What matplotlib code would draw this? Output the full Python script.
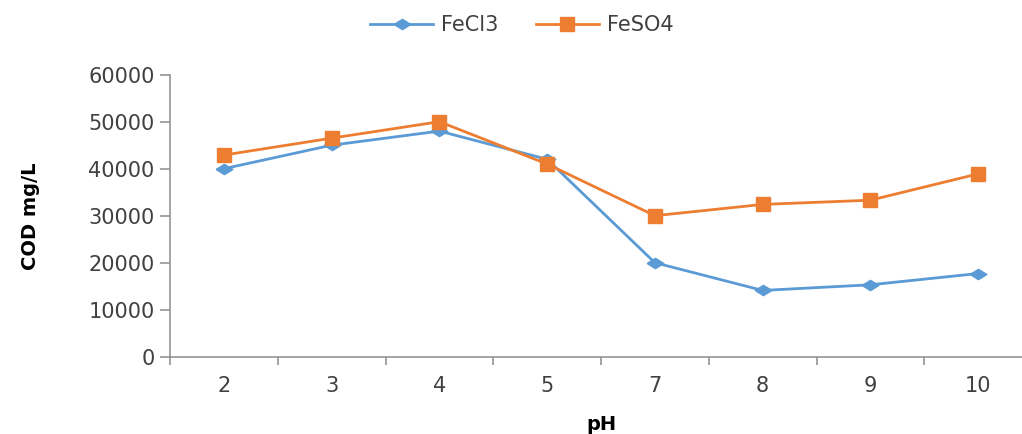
import matplotlib
matplotlib.use("Agg")
import matplotlib.pyplot as plt
import numpy as np

categories = ["2", "3", "4", "5", "7", "8", "9", "10"]
fecl3 = [40000, 45000, 48000, 42000, 20000, 14100, 15300, 17700]
feso4 = [42900, 46500, 50000, 41000, 30000, 32400, 33300, 38900]
yticks = [0, 10000, 20000, 30000, 40000, 50000, 60000]

blue = "#5B9BD5"
orange = "#ED7D31"
axis_col = "#8C8C8C"
text_col = "#404040"

fig = plt.figure(figsize=(10.22, 4.34), dpi=100)
ax = fig.add_axes([170/1022, (434-356.7)/434, 862/1022, 282/434])

x = np.arange(len(categories))
diamond = [(-1, 0), (0, 0.62), (1, 0), (0, -0.62), (-1, 0)]
ax.plot(x, fecl3, color=blue, lw=2, marker=diamond, markersize=12, label="FeCl3")
ax.plot(x, feso4, color=orange, lw=2, marker="s", markersize=10.5, label="FeSO4")

ax.set_xlim(-0.5, len(categories) - 0.5)
ax.set_ylim(0, 60000)
ax.set_yticks(yticks)
ax.set_yticklabels([str(v) for v in yticks])
ax.set_xticks(x)
ax.set_xticklabels(categories)
ax.set_xticks(np.arange(-0.5, len(categories)), minor=True)

for s in ["top", "right"]:
    ax.spines[s].set_visible(False)
for s in ["left", "bottom"]:
    ax.spines[s].set_color(axis_col)
    ax.spines[s].set_linewidth(1.1)

ax.tick_params(axis="x", which="major", length=0, pad=14, labelsize=15, labelcolor=text_col)
ax.tick_params(axis="x", which="minor", length=6, width=1.1, color=axis_col, direction="out")
ax.tick_params(axis="y", which="major", length=7, width=1.1, color=axis_col, pad=4,
               labelsize=15, labelcolor=text_col)

fig.text(30/1022, 1 - 216/434, "COD mg/L", rotation=90, ha="center", va="center",
         fontsize=14, fontweight="bold", color="black")
fig.text(601/1022, 1 - 425/434, "pH", ha="center", va="center",
         fontsize=14, fontweight="bold", color="black")

leg = fig.legend(loc="center", bbox_to_anchor=(522/1022, 1 - 25/434), ncol=2, frameon=False,
                 fontsize=15, handlelength=3.0, columnspacing=1.8, handletextpad=0.4)
for t in leg.get_texts():
    t.set_color(text_col)

fig.savefig("out.png", dpi=100)
